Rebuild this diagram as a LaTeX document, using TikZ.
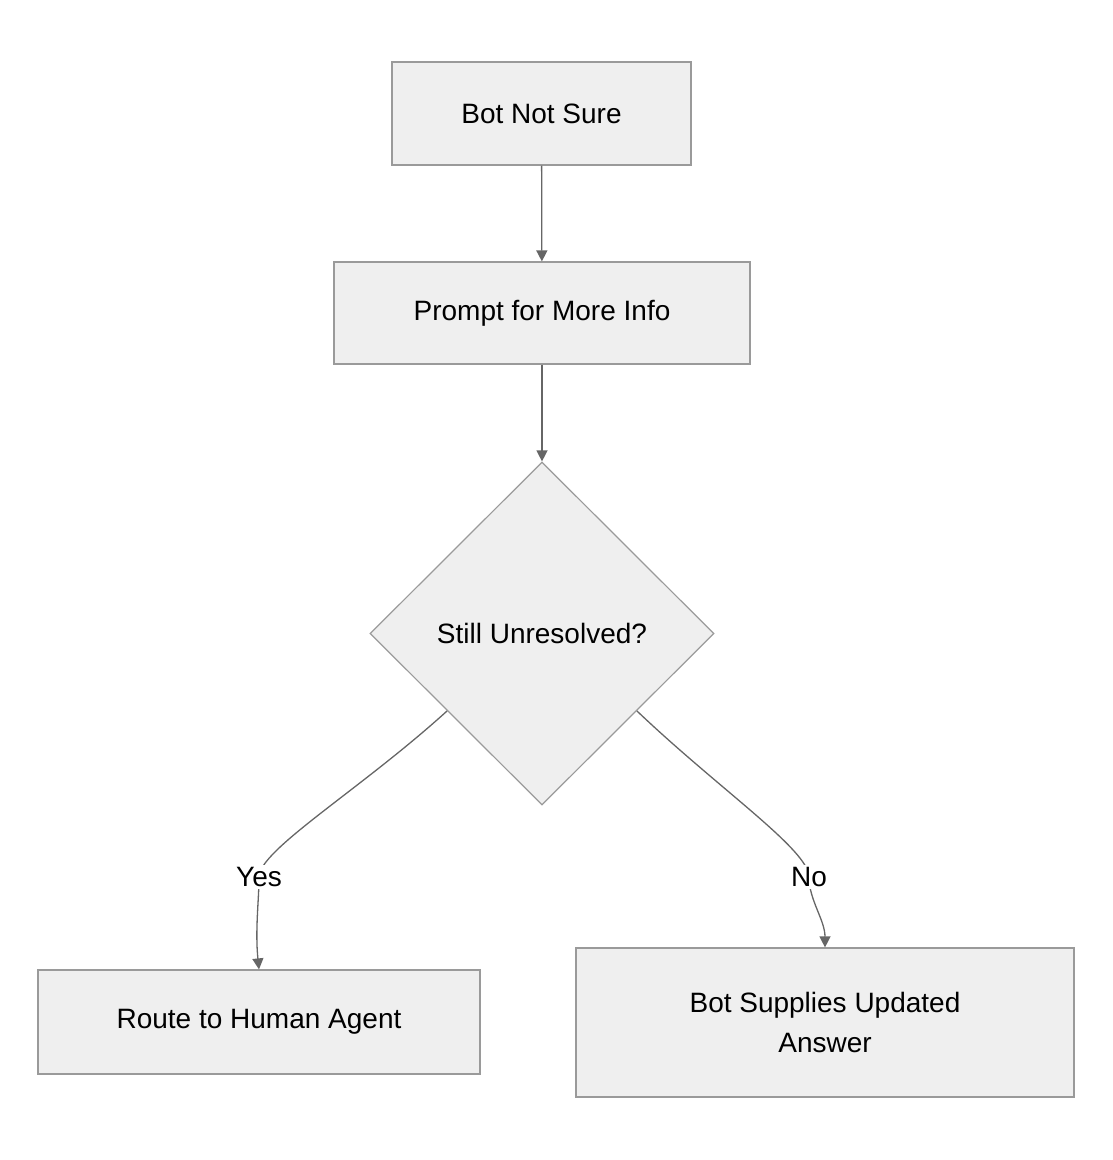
\documentclass[tikz,border=0pt]{standalone}
\usepackage{fontspec}
\setmainfont{Liberation Sans}
\usetikzlibrary{shapes.geometric,arrows.meta,calc}
\definecolor{boxfill}{HTML}{EFEFEF}
\definecolor{boxline}{HTML}{9A9A9A}
\definecolor{edge}{HTML}{666666}
\begin{document}
\begin{tikzpicture}[x=1pt,y=-1pt,
  box/.style={draw=boxline,fill=boxfill,line width=1.2pt,inner sep=0pt,font=\fontsize{28}{40}\selectfont,align=center},
  dia/.style={draw=boxline,fill=boxfill,line width=1.2pt,diamond,inner sep=0pt,minimum width=344pt,minimum height=343pt,font=\fontsize{28}{34}\selectfont},
  conn/.style={draw=edge,line width=1.3pt,-{Triangle[length=11pt,width=11pt]}},
  lbl/.style={fill=white,inner sep=2pt,font=\fontsize{28}{34}\selectfont}]
\useasboundingbox (0,0) rectangle (1112,1160);
\node[box,minimum width=299pt,minimum height=103pt] (a) at (541.5,113.5) {Bot Not Sure};
\node[box,minimum width=416pt,minimum height=102pt] (b) at (542,313) {Prompt for More Info};
\node[dia] (d) at (542,633.5) {Still Unresolved?};
\node[box,minimum width=442pt,minimum height=104pt] (r) at (259,1022) {Route to Human Agent};
\node[box,minimum width=498pt,minimum height=149pt] (s) at (825,1022.5) {Bot Supplies Updated\\Answer};
\draw[conn] (a) -- (b);
\draw[conn] (b) -- (d.north);
\coordinate (dl) at ($(d.west)!0.45!(d.south)$);
\coordinate (dr) at ($(d.east)!0.45!(d.south)$);
\draw[conn] (dl) .. controls (360,790) and (259,850) .. (259,877) .. controls (259,900) and (255,930) .. (r.north);
\draw[conn] (dr) .. controls (720,790) and (809,850) .. (809,877) .. controls (809,900) and (825,920) .. (s.north);
\node[lbl] (y) at (259,877) {Yes};
\node[lbl] (n) at (809,877) {No};
\end{tikzpicture}
\end{document}
